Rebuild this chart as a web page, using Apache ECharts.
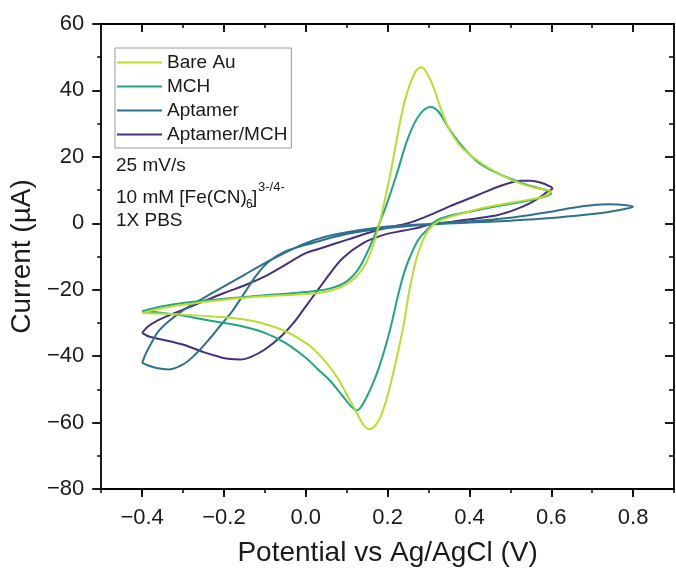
<!DOCTYPE html>
<html>
<head>
<meta charset="utf-8">
<script src="https://cdn.jsdelivr.net/npm/echarts@6/dist/echarts.min.js"></script>
<style>
html,body{margin:0;padding:0;background:#fff;}
#chart{width:676px;height:572px;}
</style>
</head>
<body>
<div id="chart"></div>
<script>
// ---- data ----
var seriesNames = ['Bare Au', 'MCH', 'Aptamer', 'Aptamer/MCH'];
var xTickLabels = [-0.4, -0.2, 0.0, 0.2, 0.4, 0.6, 0.8];
var yTickLabels = [-80, -60, -40, -20, 0, 20, 40, 60];

var bareAuX = [-0.4, -0.35, -0.3, -0.2, -0.1, 0.0, 0.05, 0.09, 0.12, 0.145, 0.165, 0.18, 0.195, 0.21, 0.225, 0.24, 0.255, 0.27, 0.283, 0.297, 0.312, 0.33, 0.35, 0.38, 0.43, 0.5, 0.55, 0.6,
  0.58, 0.55, 0.47, 0.43, 0.39, 0.35, 0.32, 0.3, 0.285, 0.272, 0.262, 0.252, 0.24, 0.225, 0.21, 0.195, 0.18, 0.165, 0.155, 0.14, 0.12, 0.1, 0.08, 0.06, 0.04, 0.02, 0.0, -0.05, -0.1, -0.15, -0.2, -0.3, -0.4];
var bareAuY = [-27, -25.5, -24.5, -23, -22, -21.3, -20.6, -19, -16.5, -12.5, -6.5, 0, 8, 17, 27, 36, 42, 46, 47, 45, 41, 34.5, 28.5, 23, 18, 13.2, 11, 9.5,
  8, 7.2, 5.5, 4.5, 3.2, 1.8, 0.3, -2, -5.5, -10, -15, -21, -30, -39, -47, -54, -59, -61.5, -62, -60.5, -56, -51.5, -47, -43.5, -40.5, -38, -36, -32.5, -30.3, -29, -28.3, -27.5, -27];

var mchX = [-0.4, -0.35, -0.3, -0.2, -0.1, 0.0, 0.06, 0.1, 0.13, 0.155, 0.18, 0.2, 0.224, 0.245, 0.265, 0.285, 0.305, 0.325, 0.35, 0.38, 0.42, 0.47, 0.53, 0.6,
  0.55, 0.47, 0.4, 0.35, 0.322, 0.3, 0.275, 0.255, 0.24, 0.225, 0.21, 0.195, 0.18, 0.165, 0.15, 0.135, 0.125, 0.11, 0.09, 0.06, 0.03, 0.0, -0.05, -0.1, -0.15, -0.2, -0.25, -0.3, -0.35, -0.4];
var mchY = [-26.5, -25, -24, -22.7, -21.7, -20.7, -19.6, -17.5, -13.5, -7.5, 0, 6.5, 15.5, 24, 30, 33.7, 35, 33.5, 28.5, 23.5, 18.5, 15, 12, 9,
  7, 5.2, 3.5, 2.2, 1, -1.5, -5, -10, -15, -22, -30, -37, -43, -48, -52, -55.3, -56.3, -55, -52, -47.5, -44, -40.5, -36, -33, -31.2, -30, -29, -27.8, -27, -26.5];

var aptamerX = [-0.4, -0.39, -0.375, -0.36, -0.335, -0.3, -0.25, -0.2, -0.15, -0.1, -0.05, 0.0, 0.05, 0.1, 0.2, 0.3, 0.4, 0.5, 0.55, 0.6, 0.65, 0.7, 0.74, 0.77, 0.8,
  0.78, 0.74, 0.7, 0.6, 0.5, 0.4, 0.3, 0.2, 0.1, 0.0, -0.05, -0.09, -0.12, -0.15, -0.18, -0.21, -0.24, -0.27, -0.3, -0.335, -0.365, -0.385, -0.4];
var aptamerY = [-42, -39, -35.5, -32.5, -29.5, -26.2, -22.5, -19, -15.5, -12, -8.8, -6, -4, -2.7, -1, -0.2, 0.6, 1.7, 2.5, 3.5, 4.6, 5.4, 5.7, 5.6, 5,
  4.3, 3.4, 2.8, 1.6, 0.8, 0.2, -0.4, -1.4, -3.2, -6.5, -8.5, -11.5, -15.5, -21, -26.5, -31, -35.5, -39.5, -42.5, -44, -43.6, -42.8, -42];

var aptMchX = [-0.4, -0.385, -0.366, -0.33, -0.3, -0.256, -0.2, -0.146, -0.1, -0.05, 0.0, 0.037, 0.1, 0.15, 0.2, 0.25, 0.3, 0.35, 0.39, 0.43, 0.47, 0.5, 0.525, 0.55, 0.575, 0.595, 0.603,
  0.59, 0.58, 0.555, 0.53, 0.5, 0.47, 0.42, 0.386, 0.35, 0.305, 0.28, 0.24, 0.19, 0.14, 0.09, 0.06, 0.03, 0.0, -0.03, -0.06, -0.1, -0.134, -0.16, -0.19, -0.212, -0.25, -0.293, -0.33, -0.366, -0.385, -0.4];
var aptMchY = [-33, -31, -29.5, -27.5, -26, -23.8, -21, -18.5, -16, -12.5, -9, -7.5, -5, -3, -1.3, 0, 2.3, 5, 7, 9, 11, 12.2, 12.8, 12.8, 12.2, 11.2, 10.5,
  9.5, 8.5, 6.5, 5, 3.6, 2.5, 1.5, 1, 0.3, -0.3, -1.2, -2.2, -3.5, -6, -10.5, -15, -20, -25, -30, -34, -38, -40.2, -41, -40.8, -40.2, -38.8, -36.8, -35.6, -34.6, -34, -33];

// ---- build ----
function pairs(xs, ys) { return xs.map(function (x, i) { return [x, ys[i]]; }); }
var colors = ['#b8dd2f', '#22a386', '#2d718e', '#46307e'];
var curveData = [pairs(bareAuX, bareAuY), pairs(mchX, mchY), pairs(aptamerX, aptamerY), pairs(aptMchX, aptMchY)];

var FONT = '"Liberation Sans", Arial, sans-serif';
var TXT = '#1a1a1a';
function fmtNum(v, digits) {
  var s = digits ? v.toFixed(digits) : String(Math.round(v));
  return s.replace('-', '\u2212');
}

var chart = echarts.init(document.getElementById('chart'), null, { renderer: 'canvas' });

var baseX = { type: 'value', min: -0.5, max: 0.9, splitLine: { show: false } };
var baseY = { type: 'value', min: -80, max: 60, interval: 20, splitLine: { show: false } };
var axLine = { show: true, onZero: false, lineStyle: { color: '#000', width: 1.8 } };
var noLine = { show: false, onZero: false };

var option = {
  animation: false,
  backgroundColor: '#fff',
  grid: { left: 100, right: 2, top: 24, bottom: 83, containLabel: false },
  legend: {
    orient: 'vertical', left: 115, top: 48,
    data: seriesNames.map(function (n) { return { name: n, icon: 'rect' }; }),
    itemWidth: 45, itemHeight: 2, itemGap: 5,
    padding: [5, 4, 4, 2],
    borderColor: '#9a9a9a', borderWidth: 1,
    textStyle: { fontSize: 19, fontFamily: FONT, color: TXT }
  },
  xAxis: [
    Object.assign({}, baseX, {
      position: 'bottom', interval: 0.1,
      name: 'Potential vs Ag/AgCl (V)', nameLocation: 'middle', nameGap: 50,
      nameTextStyle: { fontSize: 28, fontFamily: FONT, color: TXT },
      axisLine: axLine,
      axisTick: { show: true, inside: false, length: 8, lineStyle: { color: '#000', width: 1.8 }, customValues: xTickLabels },
      axisLabel: { show: true, margin: 18, fontSize: 22, fontFamily: FONT, color: TXT, customValues: xTickLabels,
        formatter: function (v) { return fmtNum(v, 1); } }
    }),
    Object.assign({}, baseX, {
      position: 'bottom', interval: 0.1,
      axisLine: noLine,
      axisTick: { show: true, inside: false, length: 4, lineStyle: { color: '#000', width: 1.5 } },
      axisLabel: { show: false }
    }),
    Object.assign({}, baseX, {
      position: 'top', interval: 0.1,
      axisLine: axLine,
      axisTick: { show: true, inside: true, length: 8, lineStyle: { color: '#000', width: 1.8 }, customValues: xTickLabels },
      axisLabel: { show: false }
    }),
    Object.assign({}, baseX, {
      position: 'top', interval: 0.1,
      axisLine: noLine,
      axisTick: { show: true, inside: true, length: 4, lineStyle: { color: '#000', width: 1.5 } },
      axisLabel: { show: false }
    })
  ],
  yAxis: [
    Object.assign({}, baseY, {
      position: 'left',
      name: 'Current (\u00b5A)', nameLocation: 'middle', nameGap: 60,
      nameTextStyle: { fontSize: 28, fontFamily: FONT, color: TXT },
      axisLine: axLine,
      axisTick: { show: true, inside: false, length: 9, lineStyle: { color: '#000', width: 1.8 } },
      minorTick: { show: true, splitNumber: 2, length: 4, lineStyle: { color: '#000', width: 1.5 } },
      axisLabel: { show: true, margin: 17, fontSize: 22, fontFamily: FONT, color: TXT,
        formatter: function (v) { return fmtNum(v, 0); } }
    }),
    Object.assign({}, baseY, {
      position: 'right',
      axisLine: axLine,
      axisTick: { show: true, inside: true, length: 9, lineStyle: { color: '#000', width: 1.8 } },
      minorTick: { show: true, splitNumber: 2, length: 5, lineStyle: { color: '#000', width: 1.5 } },
      axisLabel: { show: false }
    })
  ],
  series: seriesNames.map(function (n, i) {
    return {
      name: n, type: 'line', xAxisIndex: 0, yAxisIndex: 0,
      data: curveData[i], showSymbol: false, symbol: 'none',
      smooth: 0.35, clip: true,
      lineStyle: { color: colors[i], width: 2 },
      itemStyle: { color: colors[i] },
      z: 10 - i
    };
  }),
  graphic: [
    { type: 'text', x: 116, y: 166, style: { text: '25 mV/s', font: '19px ' + FONT, fill: TXT, verticalAlign: 'middle' } },
    { type: 'text', x: 116, y: 198, style: { text: '10 mM [Fe(CN)', font: '19px ' + FONT, fill: TXT, verticalAlign: 'middle' } },
    { type: 'text', x: 246, y: 205, style: { text: '6', font: '12px ' + FONT, fill: TXT, verticalAlign: 'middle' } },
    { type: 'text', x: 252, y: 198, style: { text: ']', font: '19px ' + FONT, fill: TXT, verticalAlign: 'middle' } },
    { type: 'text', x: 258, y: 187, style: { text: '3-/4-', font: '13px ' + FONT, fill: TXT, verticalAlign: 'middle' } },
    { type: 'text', x: 116, y: 221, style: { text: '1X PBS', font: '19px ' + FONT, fill: TXT, verticalAlign: 'middle' } }
  ]
};
chart.setOption(option);
</script>
</body>
</html>
